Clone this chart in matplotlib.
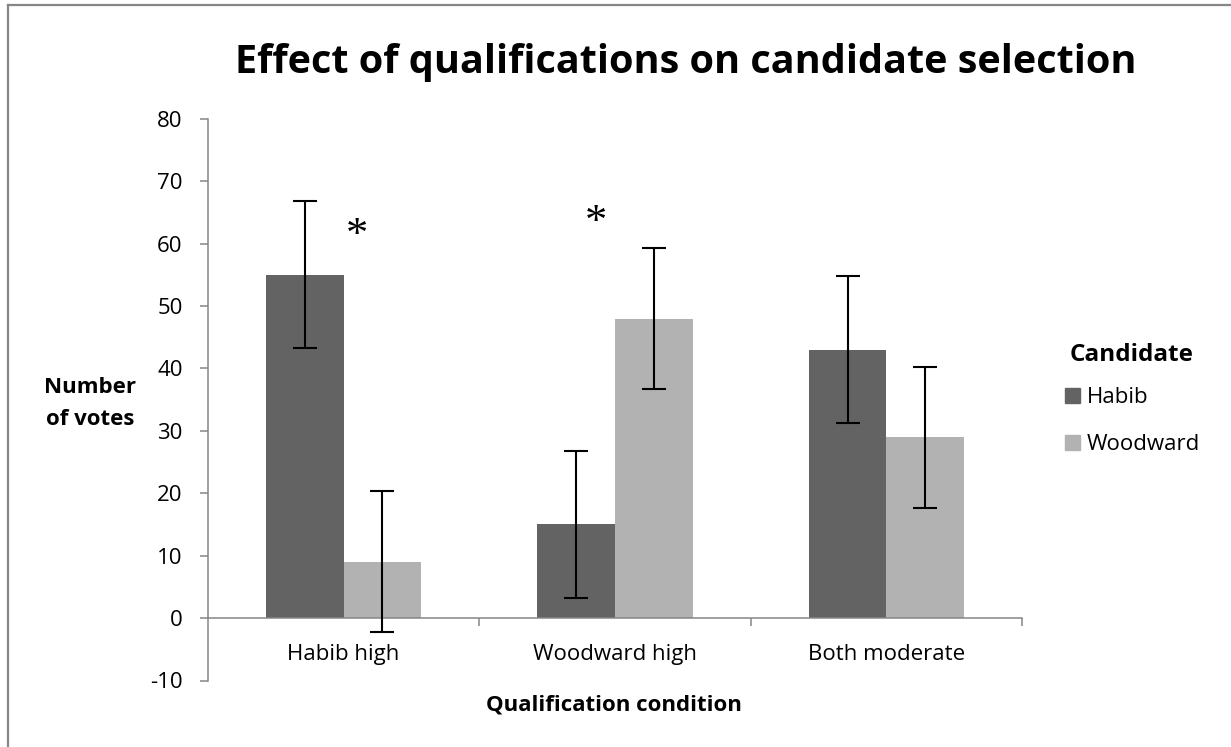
import numpy as np
import matplotlib
matplotlib.use('Agg')
import matplotlib.pyplot as plt
from matplotlib.lines import Line2D
from matplotlib.patches import Rectangle

# data
conditions = ['Habib high', 'Woodward high', 'Both moderate']
habib = [55, 15, 43]
woodward = [9, 48, 29]
habib_err = [11.8, 11.8, 11.8]
woodward_err = [11.3, 11.3, 11.3]
yticks = [-10, 0, 10, 20, 30, 40, 50, 60, 70, 80]
# significance stars: (x position, height)
stars = [(0.05, 61.3), (0.93, 63.3)]

plt.rcParams['font.family'] = ['Open Sans', 'DejaVu Sans']
plt.rcParams['axes.unicode_minus'] = False

W, H = 1231, 747
fig = plt.figure(figsize=(W/100, H/100), dpi=100)
ax = fig.add_axes([208/W, 1 - 680.5/H, (1022-208)/W, (680.5-118.8)/H])

grey = '#868686'
dark = '#636363'
light = '#b2b2b2'

x = np.arange(len(conditions))
w = 1/3.5
ax.bar(x - w/2, habib, w, color=dark, label='Habib', zorder=2)
ax.bar(x + w/2, woodward, w, color=light, label='Woodward', zorder=2)
ax.errorbar(x - w/2, habib, yerr=habib_err, fmt='none', ecolor='black',
            elinewidth=1.5, capsize=8.6, capthick=1.5, zorder=3)
ax.errorbar(x + w/2, woodward, yerr=woodward_err, fmt='none', ecolor='black',
            elinewidth=1.5, capsize=8.6, capthick=1.5, zorder=3)

ax.set_xlim(-0.5, 2.5)
ax.set_ylim(-10, 80)
ax.set_yticks(yticks)
ax.set_xticks(x)
ax.set_xticklabels(conditions)
ax.set_xticks([0.5, 1.5, 2.5], minor=True)
ax.tick_params(axis='x', which='major', length=0, labelsize=16, pad=18.5)
ax.tick_params(axis='x', which='minor', length=5.8, width=1.1, color=grey)
ax.tick_params(axis='y', length=5.8, width=1.1, color=grey, labelsize=16, pad=12.5)
for s in ['top', 'right']:
    ax.spines[s].set_visible(False)
ax.spines['bottom'].set_position(('data', 0))
for s in ['left', 'bottom']:
    ax.spines[s].set_color(grey)
    ax.spines[s].set_linewidth(1.1)

for sx, sy in stars:
    ax.text(sx, sy, '*', family='Liberation Serif', fontsize=32,
            ha='center', va='center')

fig.text(686/W, 1 - 73.3/H, 'Effect of qualifications on candidate selection',
         ha='center', va='baseline', fontsize=28.5, fontweight='bold')
fig.text(90/W, 1 - 393/H, 'Number', ha='center', va='baseline',
         fontsize=16, fontweight='bold')
fig.text(90/W, 1 - 425/H, 'of votes', ha='center', va='baseline',
         fontsize=16, fontweight='bold')
fig.text(614/W, 1 - 710.5/H, 'Qualification condition', ha='center',
         va='baseline', fontsize=16, fontweight='bold')

# legend
fig.text(1070/W, 1 - 360.7/H, 'Candidate', ha='left', va='baseline',
         fontsize=17.5, fontweight='bold')
for lab, col, base in [('Habib', dark, 402.7), ('Woodward', light, 450)]:
    fig.add_artist(Rectangle((1065/W, 1 - (base + 0.3)/H), 15/W, 15/H,
                             transform=fig.transFigure, color=col))
    fig.text(1087/W, 1 - base/H, lab, ha='left', va='baseline', fontsize=16)

# chart area border (top and left edges visible)
fig.add_artist(Line2D([7.5/W, 7.5/W], [0, 1 - 5/H], color=grey, lw=1.6))
fig.add_artist(Line2D([7.5/W, 1], [1 - 5/H, 1 - 5/H], color=grey, lw=1.6))

fig.savefig('out.png', dpi=100)
